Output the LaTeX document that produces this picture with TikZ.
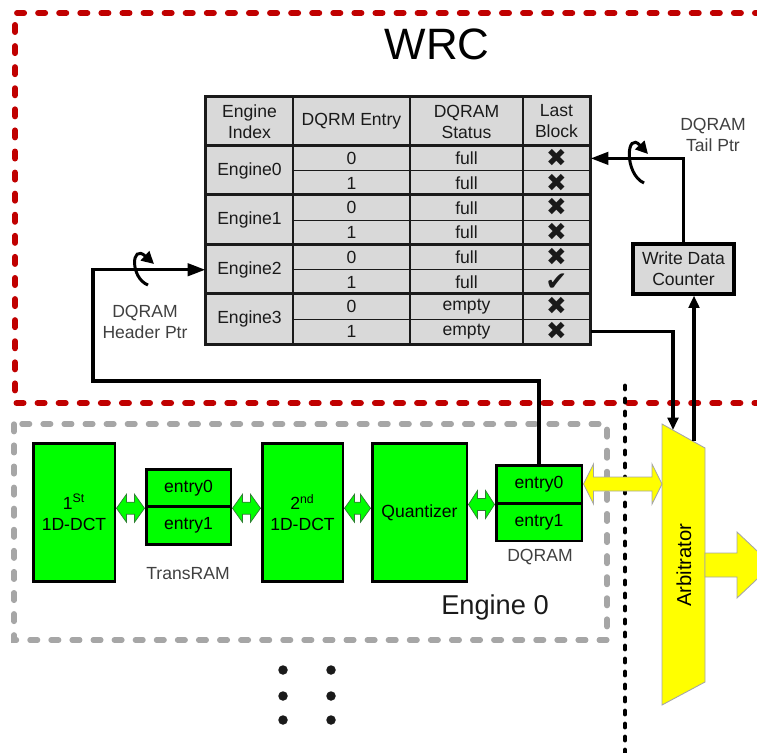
\documentclass[tikz,border=0pt]{standalone}
\usepackage{fontspec}
\setmainfont{Liberation Sans}
\newfontfamily\simbolos{DejaVu Sans}
\usetikzlibrary{arrows.meta, calc}
\definecolor{rojo}{HTML}{C00000}
\definecolor{gris}{HTML}{A6A6A6}
\definecolor{grisclaro}{HTML}{D9D9D9}
\definecolor{linea}{HTML}{1A1A1A}
\definecolor{tenue}{HTML}{404040}
\definecolor{verde}{HTML}{00FF00}
\definecolor{verdeosc}{HTML}{2E7D32}
\definecolor{amarillo}{HTML}{FFFF00}
\newcommand{\marcano}{{\simbolos\fontsize{14}{14}\selectfont ✖}}
\newcommand{\marcasi}{{\simbolos\fontsize{15}{14}\selectfont ✔}}
\newcommand{\dblarrow}[6]{%
  \filldraw[#1] let \p1=(#2), \p2=(#3) in
    (\x1,\y1) -- (\x1+#4,\y1+#5) -- (\x1+#4,\y1+#6) -- (\x2-#4,\y1+#6) -- (\x2-#4,\y1+#5) -- (\x2,\y1)
    -- (\x2-#4,\y1-#5) -- (\x2-#4,\y1-#6) -- (\x1+#4,\y1-#6) -- (\x1+#4,\y1-#5) -- cycle;}

\begin{document}
\begin{tikzpicture}[x=0.02cm, y=-0.02cm, font=\fontsize{10}{12}\selectfont,
		celda/.style={draw=linea, fill=grisclaro, line width=0.8pt, inner sep=0pt, align=center, text=linea},
		bloque/.style={draw=black, fill=verde, line width=1.7pt, inner sep=0pt, align=center},
		conector/.style={line width=1.8pt, -{Triangle[length=10pt,width=7pt]}},
		corto/.style={line width=1.8pt, -{Triangle[length=7pt,width=6pt]}},
		giro/.style={line width=1.7pt, -{Triangle[length=7pt,width=7pt]}},
		flechav/.style={fill=verde, draw=verdeosc, line width=0.4pt},
		flechaa/.style={fill=amarillo, draw=gris, line width=0.5pt}]
	\useasboundingbox (0,0) rectangle (757,753);
	% regiones
	\draw[rojo, line width=3.4pt, line cap=round, dash pattern=on 4pt off 8pt] (762,13) -- (15,13) -- (15,403) -- (762,403);
	\draw[gris, line width=3pt, line cap=round, dash pattern=on 4.4pt off 7.6pt] (14,424) rectangle (607,640);
	\draw[black, line width=2.8pt, line cap=round, dash pattern=on 1.7pt off 5.7pt] (625,386) -- (625,753);
	\node[font=\fontsize{25}{30}\selectfont] (wrc) at (437,44) {WRC};
	\node[font=\fontsize{15.5}{18}\selectfont, text=linea] (eng) at (495,607) {Engine 0};
	% tabla
	\node[celda, minimum width=17.4mm, minimum height=9.8mm] (hdr1) at (249.5,121.5) {Engine\\Index};
	\node[celda, minimum width=23.4mm, minimum height=9.8mm] (hdr2) at (351.5,121.5) {DQRM Entry};
	\node[celda, minimum width=22.6mm, minimum height=9.8mm] (hdr3) at (466.5,121.5) {DQRAM\\Status};
	\node[celda, minimum width=13.4mm, minimum height=9.8mm] (hdr4) at (556.5,121.5) {Last\\Block};
	\foreach \k in {0,...,3}
		\node[celda, minimum width=17.4mm, minimum height=9.9mm] (eng\k) at (249.5,{146+49.5*(\k+0.5)}) {Engine\k};
	\foreach \i/\e/\s/\m in {0/0/full/\marcano, 1/1/full/\marcano, 2/0/full/\marcano, 3/1/full/\marcano,
			4/0/full/\marcano, 5/1/full/\marcasi, 6/0/empty/\marcano, 7/1/empty/\marcano} {
		\node[celda, minimum width=23.4mm, minimum height=4.95mm] (ent\i) at (351.5,{146+24.75*(\i+0.5)}) {\e};
		\node[celda, minimum width=22.6mm, minimum height=4.95mm] (sts\i) at (466.5,{146+24.75*(\i+0.5)}) {\s};
		\node[celda, minimum width=13.4mm, minimum height=4.95mm, text height=3.2mm, text depth=0pt] (lst\i) at (556.5,{146+24.75*(\i+0.5)}) {\m};
	}
	\foreach \k in {0,...,3} \draw[linea, line width=1.5pt] (eng\k.north west) -- (eng\k.north west -| lst0.east);
	\draw[linea, line width=1.5pt] (hdr1.north west) rectangle (lst7.south east);
	% contador y arbitro
	\node[celda, line width=1.8pt, draw=black, minimum width=20.2mm, minimum height=10mm] (wdc) at (683.5,269) {Write Data\\Counter};
	\filldraw[flechaa] (662,424) -- (705,448) -- (705,682) -- (662,705) -- cycle;
	\node[rotate=90, font=\fontsize{11.5}{14}\selectfont] (arb) at (684,565) {Arbitrator};
	\coordinate (arbin) at (673,430);
	\coordinate (arbup) at (694,441);
	\coordinate (arbleft) at (662,484);
	\filldraw[flechaa] (705,553) -- (737,553) -- (737,532) -- (772,565) -- (737,598) -- (737,577) -- (705,577) -- cycle;
	% bloques del engine
	\node[bloque, minimum width=16.4mm, minimum height=27.8mm] (dct1) at (74,512.5) {1\textsuperscript{St}\\1D-DCT};
	\node[bloque, minimum width=17mm, minimum height=7.5mm] (tr0) at (188.5,488) {entry0};
	\node[bloque, minimum width=17mm, minimum height=7.5mm] (tr1) at (188.5,525.5) {entry1};
	\node[text=tenue] (trlbl) at (188,574) {TransRAM};
	\node[bloque, minimum width=16.2mm, minimum height=27.8mm] (dct2) at (302.5,512.5) {2\textsuperscript{nd}\\1D-DCT};
	\node[bloque, minimum width=19mm, minimum height=27.8mm] (quant) at (419.5,512.5) {Quantizer};
	\node[bloque, minimum width=17.2mm, minimum height=7.6mm] (dq0) at (539,484) {entry0};
	\node[bloque, minimum width=17.2mm, minimum height=7.6mm] (dq1) at (539,522) {entry1};
	\node[text=tenue] (dqlbl) at (540,557) {DQRAM};
	\dblarrow{flechav}{dct1.east |- tr0.south}{tr0.south west}{2mm}{2.8mm}{1.2mm}
	\dblarrow{flechav}{tr0.south east}{dct2.west |- tr0.south}{2mm}{2.8mm}{1.2mm}
	\dblarrow{flechav}{dct2.east |- tr0.south}{quant.west |- tr0.south}{2mm}{2.8mm}{1.2mm}
	\dblarrow{flechav}{quant.east |- dq0.south}{dq0.south west}{1.8mm}{2.8mm}{1.2mm}
	\dblarrow{flechaa}{dq0.east}{arbleft |- dq0.east}{2mm}{4mm}{1.4mm}
	% punteros
	\coordinate (hdrturn) at (93,381);
	\draw[conector] (dq0.north) |- (hdrturn) |- (eng2.west);
	\draw[giro] (148,285) .. controls (130,278) and (131,243) .. (154,264);
	\node[text=tenue, align=center] (hdrlbl) at (145,322) {DQRAM\\Header Ptr};
	\draw[conector] (wdc.north) |- (lst0.east);
	\draw[giro] (644,183) .. controls (624,174) and (626,130) .. (648,154);
	\node[text=tenue, align=center] (taillbl) at (713,135) {DQRAM\\Tail Ptr};
	\draw[corto] (lst7.east) -| (arbin);
	\draw[corto] (arbup) -- (arbup |- wdc.south);
	% mas engines
	\foreach \x in {283,331} \foreach \y in {670,696,720} \fill[linea] (\x,\y) circle (0.95mm);
\end{tikzpicture}
\end{document}
